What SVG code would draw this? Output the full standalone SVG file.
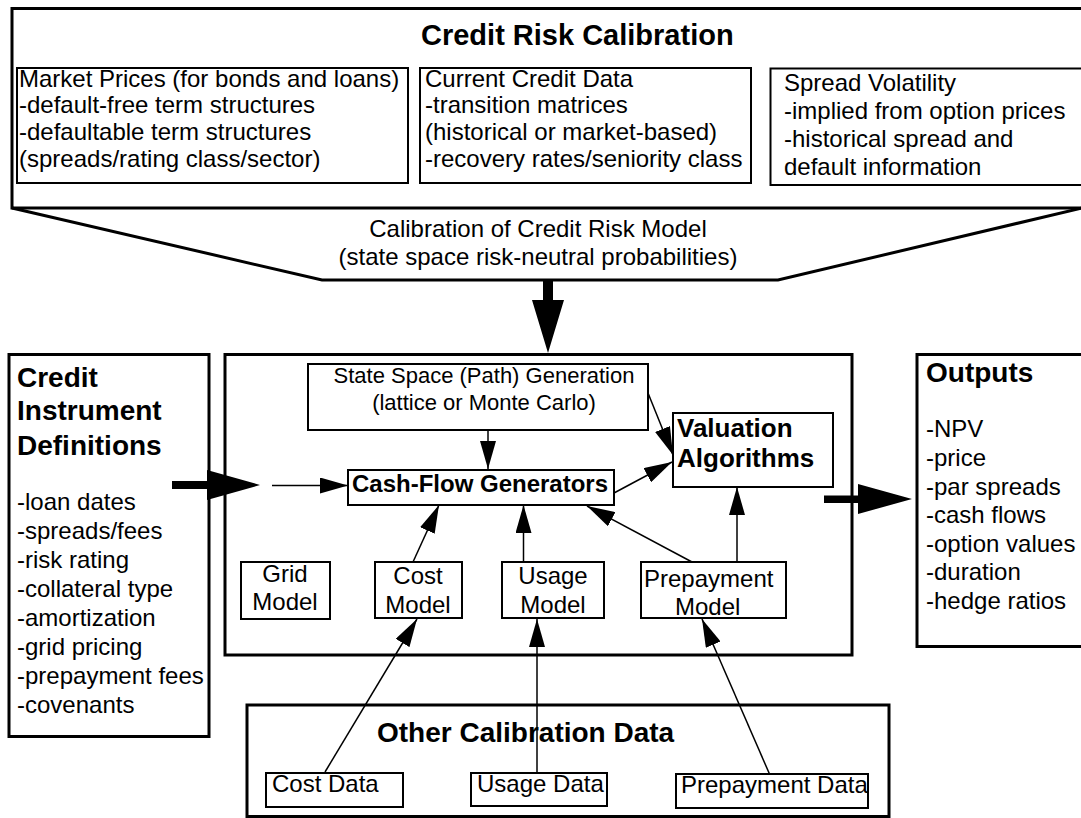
<svg xmlns="http://www.w3.org/2000/svg" width="1081" height="818" viewBox="0 0 1081 818">
<style>
text{font-family:"Liberation Sans",Arial,Helvetica,sans-serif;fill:#000}
.t{font-size:24px}
.s{font-size:22px}
.b{font-size:28px;font-weight:bold}
.bm{font-size:24px;font-weight:bold}
.frame{fill:none;stroke:#000;stroke-width:3}
.box{fill:#fff;stroke:#000;stroke-width:2}
.conn{fill:none;stroke:#000;stroke-width:1.5}
.fat{fill:#000;stroke:none}
</style>
<defs>
<marker id="ah" viewBox="0 0 28 16" refX="28" refY="8" markerWidth="28" markerHeight="16" markerUnits="userSpaceOnUse" orient="auto">
<path d="M0,0 L28,8 L0,16 Z" fill="#000"/>
</marker>
</defs>

<g id="calibration">
<path class="frame" d="M12,8.5 H1086 V208 H12 Z"/>
<path class="frame" d="M12,208 L322,280 H778 L1086,207"/>
<text class="b" x="421" y="45" style="font-size:29px">Credit Risk Calibration</text>
<text class="t" x="538" y="237" text-anchor="middle">Calibration of Credit Risk Model</text>
<text class="t" x="538" y="265" text-anchor="middle">(state space risk-neutral probabilities)</text>
</g>

<g id="market-prices">
<rect class="box" x="17" y="68" width="391" height="115"/>
<text class="t" x="19" y="87">Market Prices (for bonds and loans)</text>
<text class="t" x="19" y="113">-default-free term structures</text>
<text class="t" x="19" y="140">-defaultable term structures</text>
<text class="t" x="19" y="167">(spreads/rating class/sector)</text>
</g>

<g id="current-credit-data">
<rect class="box" x="420" y="68" width="331" height="115"/>
<text class="t" x="425" y="87">Current Credit Data</text>
<text class="t" x="425" y="113">-transition matrices</text>
<text class="t" x="425" y="140">(historical or market-based)</text>
<text class="t" x="425" y="167">-recovery rates/seniority class</text>
</g>

<g id="spread-volatility">
<rect class="box" x="770.5" y="68.5" width="314" height="116.5"/>
<text class="t" x="784" y="91">Spread Volatility</text>
<text class="t" x="784" y="119">-implied from option prices</text>
<text class="t" x="784" y="147">-historical spread and</text>
<text class="t" x="784" y="175">default information</text>
</g>

<g id="credit-instrument-definitions">
<rect class="frame" x="9" y="354.5" width="200" height="382"/>
<text class="b" x="17" y="387">Credit</text>
<text class="b" x="17" y="420">Instrument</text>
<text class="b" x="17" y="455">Definitions</text>
<text class="t" x="17" y="510">-loan dates</text>
<text class="t" x="17" y="539">-spreads/fees</text>
<text class="t" x="17" y="568">-risk rating</text>
<text class="t" x="17" y="597">-collateral type</text>
<text class="t" x="17" y="626">-amortization</text>
<text class="t" x="17" y="655">-grid pricing</text>
<text class="t" x="17" y="684">-prepayment fees</text>
<text class="t" x="17" y="713">-covenants</text>
</g>

<g id="valuation-engine">
<rect class="frame" x="225" y="354.5" width="627" height="300.5"/>
</g>

<g id="state-space">
<rect class="box" x="308" y="364" width="340" height="66"/>
<text class="s" x="484" y="383" text-anchor="middle">State Space (Path) Generation</text>
<text class="s" x="484" y="410" text-anchor="middle">(lattice or Monte Carlo)</text>
</g>

<g id="cash-flow-generators">
<rect class="box" x="348" y="470" width="266" height="35"/>
<text class="bm" x="352" y="492">Cash-Flow Generators</text>
</g>

<g id="valuation-algorithms">
<rect class="box" x="673" y="413" width="160" height="74"/>
<text class="b" x="677" y="437" style="font-size:26px">Valuation</text>
<text class="b" x="677" y="467" style="font-size:26px">Algorithms</text>
</g>

<g id="grid-model">
<rect class="box" x="241" y="562" width="89" height="57"/>
<text class="t" x="285" y="582" text-anchor="middle">Grid</text>
<text class="t" x="285" y="610" text-anchor="middle">Model</text>
</g>

<g id="cost-model">
<rect class="box" x="375" y="562" width="87" height="56"/>
<text class="t" x="418" y="584" text-anchor="middle">Cost</text>
<text class="t" x="418" y="613" text-anchor="middle">Model</text>
</g>

<g id="usage-model">
<rect class="box" x="502" y="562" width="102" height="56"/>
<text class="t" x="553" y="584" text-anchor="middle">Usage</text>
<text class="t" x="553" y="613" text-anchor="middle">Model</text>
</g>

<g id="prepayment-model">
<rect class="box" x="641" y="562" width="145" height="56"/>
<text class="t" x="644" y="587">Prepayment</text>
<text class="t" x="675" y="615">Model</text>
</g>

<g id="outputs">
<rect class="frame" x="917" y="354.5" width="170" height="292"/>
<text class="b" x="926" y="382">Outputs</text>
<text class="t" x="926" y="437">-NPV</text>
<text class="t" x="926" y="466">-price</text>
<text class="t" x="926" y="495">-par spreads</text>
<text class="t" x="926" y="523">-cash flows</text>
<text class="t" x="926" y="552">-option values</text>
<text class="t" x="926" y="580">-duration</text>
<text class="t" x="926" y="609">-hedge ratios</text>
</g>

<g id="other-calibration-data">
<rect class="frame" x="247" y="705" width="642" height="111.5"/>
<text class="b" x="377" y="742">Other Calibration Data</text>
</g>

<g id="cost-data">
<rect class="box" x="266" y="773" width="137" height="34"/>
<text class="t" x="272" y="792">Cost Data</text>
</g>

<g id="usage-data">
<rect class="box" x="471" y="773" width="136" height="33"/>
<text class="t" x="477" y="792">Usage Data</text>
</g>

<g id="prepayment-data">
<rect class="box" x="676" y="774" width="192" height="34"/>
<text class="t" x="681" y="793">Prepayment Data</text>
</g>

<g id="connectors">
<path class="fat" d="M543,280 H553 V300 H564 L548,353 L532,300 H543 Z"/>
<path class="fat" d="M172,481 H207 V470 L260,485 L207,500 V489 H172 Z"/>
<path class="fat" d="M824,495.5 H858 V484 L912,499 L858,514 V503 H824 Z"/>
<line class="conn" x1="272" y1="485.5" x2="348" y2="485.5" marker-end="url(#ah)"/>
<line class="conn" x1="488" y1="430" x2="488" y2="469" marker-end="url(#ah)"/>
<line class="conn" x1="648" y1="393" x2="673" y2="455" marker-end="url(#ah)"/>
<line class="conn" x1="614" y1="493" x2="672" y2="462" marker-end="url(#ah)"/>
<line class="conn" x1="413" y1="562" x2="439" y2="505" marker-end="url(#ah)"/>
<line class="conn" x1="523.5" y1="562" x2="523.5" y2="505" marker-end="url(#ah)"/>
<line class="conn" x1="692" y1="562" x2="587" y2="506" marker-end="url(#ah)"/>
<line class="conn" x1="737" y1="562" x2="737" y2="487" marker-end="url(#ah)"/>
<line class="conn" x1="325" y1="772" x2="417" y2="619" marker-end="url(#ah)"/>
<line class="conn" x1="537" y1="773" x2="537" y2="619" marker-end="url(#ah)"/>
<line class="conn" x1="769.5" y1="774" x2="702" y2="619" marker-end="url(#ah)"/>
</g>
</svg>
